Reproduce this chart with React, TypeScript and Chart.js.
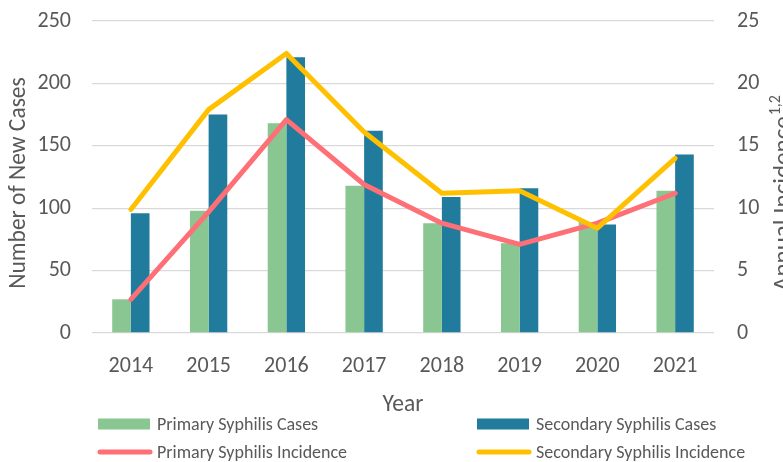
import React, { useEffect, useRef } from "react";
import { Chart, registerables } from "chart.js";

Chart.register(...registerables);

const years = ["2014", "2015", "2016", "2017", "2018", "2019", "2020", "2021"];
const primaryCases = [27, 98, 168, 118, 88, 72, 89, 114];
const secondaryCases = [96, 175, 221, 162, 109, 116, 87, 143];
const primaryIncidence = [2.7, 9.7, 17.1, 11.9, 8.8, 7.1, 8.8, 11.2];
const secondaryIncidence = [9.9, 17.9, 22.4, 16.1, 11.2, 11.4, 8.4, 14.0];
const casesAxis = { min: 0, max: 250, step: 50 };
const incidenceAxis = { min: 0, max: 25, step: 5 };

const FONT = "Carlito, Lato, 'Noto Sans', sans-serif";
const TEXT = "#595959";
const GREEN = "#8AC692";
const BLUE = "#217B9C";
const RED = "#FF6F76";
const YELLOW = "#FFC000";

const decorPlugin = {
  id: "decor",
  afterDraw(chart: any) {
    const ctx = chart.ctx as CanvasRenderingContext2D;
    const area = chart.chartArea;
    const midY = (area.top + area.bottom) / 2;
    ctx.save();
    ctx.fillStyle = TEXT;

    // left axis title
    ctx.save();
    ctx.font = `23.5px ${FONT}`;
    ctx.translate(25, midY + 6);
    ctx.rotate(-Math.PI / 2);
    ctx.textAlign = "center";
    ctx.textBaseline = "alphabetic";
    ctx.fillText("Number of New Cases", 0, 0);
    ctx.restore();

    // right axis title with superscript
    ctx.save();
    ctx.translate(790, 291);
    ctx.rotate(-Math.PI / 2);
    ctx.textAlign = "left";
    ctx.textBaseline = "alphabetic";
    ctx.font = `25px ${FONT}`;
    const main = "Annual Incidence";
    ctx.fillText(main, 0, 0);
    const w = ctx.measureText(main).width;
    ctx.font = `16px ${FONT}`;
    ctx.fillText("1,2", w + 1, -10);
    ctx.restore();

    // x axis title
    ctx.save();
    ctx.font = `23.5px ${FONT}`;
    ctx.textAlign = "center";
    ctx.textBaseline = "alphabetic";
    ctx.fillText("Year", (area.left + area.right) / 2, 411);
    ctx.restore();

    // legend
    const ds = chart.data.datasets;
    const items = [
      { i: 0, x: 98, y: 424, kind: "box" },
      { i: 1, x: 477, y: 424, kind: "box" },
      { i: 2, x: 98, y: 452, kind: "line" },
      { i: 3, x: 477, y: 452, kind: "line" },
    ];
    ctx.font = `18px ${FONT}`;
    ctx.textBaseline = "middle";
    ctx.textAlign = "left";
    for (const it of items) {
      const d = ds[it.i];
      if (it.kind === "box") {
        ctx.fillStyle = d.backgroundColor;
        ctx.fillRect(it.x, it.y - 5.5, 52, 11);
      } else {
        ctx.strokeStyle = d.borderColor;
        ctx.lineWidth = 5;
        ctx.lineCap = "round";
        ctx.beginPath();
        ctx.moveTo(it.x + 2, it.y);
        ctx.lineTo(it.x + 52, it.y);
        ctx.stroke();
      }
      ctx.fillStyle = TEXT;
      ctx.fillText(d.label, it.x + 59, it.y + 1);
    }
    ctx.restore();
  },
};

const fitVertical = (width: number) => (s: any) => {
  s.width = width;
  s.paddingTop = 0;
  s.paddingBottom = 0;
};

export default function App() {
  const ref = useRef<HTMLCanvasElement | null>(null);

  useEffect(() => {
    document.body.style.margin = "0";
    const canvas = ref.current;
    if (!canvas) return;
    const chart = new Chart(canvas, {
      type: "bar",
      data: {
        labels: years,
        datasets: [
          {
            type: "bar",
            label: "Primary Syphilis Cases",
            data: primaryCases,
            backgroundColor: GREEN,
            yAxisID: "y",
            order: 2,
            categoryPercentage: 0.48,
            barPercentage: 1,
          },
          {
            type: "bar",
            label: "Secondary Syphilis Cases",
            data: secondaryCases,
            backgroundColor: BLUE,
            yAxisID: "y",
            order: 2,
            categoryPercentage: 0.48,
            barPercentage: 1,
          },
          {
            type: "line",
            label: "Primary Syphilis Incidence",
            data: primaryIncidence,
            borderColor: RED,
            backgroundColor: RED,
            borderWidth: 5,
            pointRadius: 0,
            borderJoinStyle: "round",
            borderCapStyle: "round",
            tension: 0,
            yAxisID: "y1",
            order: 1,
          },
          {
            type: "line",
            label: "Secondary Syphilis Incidence",
            data: secondaryIncidence,
            borderColor: YELLOW,
            backgroundColor: YELLOW,
            borderWidth: 5,
            pointRadius: 0,
            borderJoinStyle: "round",
            borderCapStyle: "round",
            tension: 0,
            yAxisID: "y1",
            order: 0,
          },
        ] as any,
      },
      options: {
        responsive: false,
        animation: false,
        layout: { padding: { top: 21, left: 0, right: 0, bottom: 0 } },
        plugins: {
          legend: { display: false },
          tooltip: { enabled: false },
        },
        scales: {
          x: {
            grid: { display: false, drawTicks: false },
            border: { display: false },
            ticks: {
              color: TEXT,
              font: { family: FONT, size: 22 },
              padding: 20,
              maxRotation: 0,
            },
            afterFit: (s: any) => {
              s.height = 129;
              s.paddingLeft = 0;
              s.paddingRight = 0;
            },
          },
          y: {
            position: "left",
            min: casesAxis.min,
            max: casesAxis.max,
            grid: { color: "#D9D9D9", lineWidth: 1.3, drawTicks: false },
            border: { display: false },
            ticks: {
              stepSize: casesAxis.step,
              color: TEXT,
              font: { family: FONT, size: 22 },
              padding: 21,
            },
            afterFit: fitVertical(92),
          },
          y1: {
            position: "right",
            min: incidenceAxis.min,
            max: incidenceAxis.max,
            grid: { display: false, drawTicks: false },
            border: { display: false },
            ticks: {
              stepSize: incidenceAxis.step,
              color: TEXT,
              font: { family: FONT, size: 22 },
              padding: 23,
            },
            afterFit: fitVertical(69),
          },
        },
      },
      plugins: [decorPlugin],
    });
    return () => chart.destroy();
  }, []);

  return (
    <canvas
      ref={ref}
      width={783}
      height={462}
      style={{ display: "block", width: 783, height: 462 }}
    />
  );
}
